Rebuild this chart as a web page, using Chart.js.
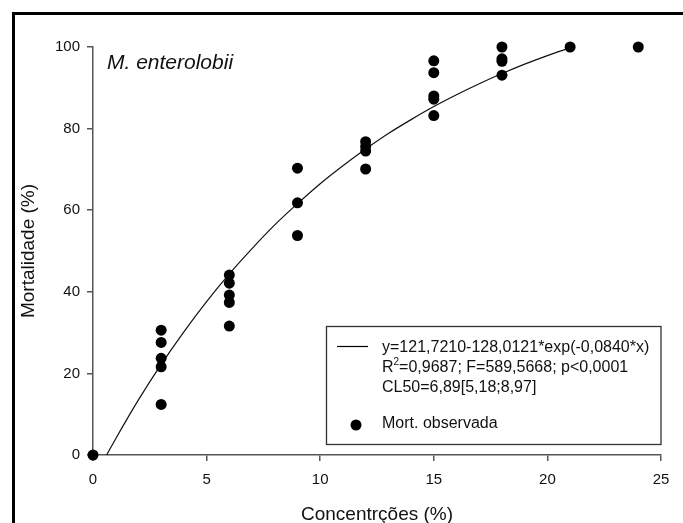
<!DOCTYPE html>
<html>
<head>
<meta charset="utf-8">
<script src="https://cdn.jsdelivr.net/npm/chart.js@4.4.1/dist/chart.umd.min.js"></script>
<style>
    html, body { margin: 0; padding: 0; background: #fff; }
    #wrap { position: relative; width: 683px; height: 523px; }
</style>
</head>
<body>
<div id="wrap"><canvas id="grafico" width="683" height="523"></canvas></div>
<script>
const concentracoes = [0, 3, 3, 3, 3, 3, 6, 6, 6, 6, 6, 9, 9, 9, 12, 12, 12, 12, 15, 15, 15, 15, 15, 18, 18, 18, 18, 21, 24];
const mortalidade = [0, 30.6, 27.6, 23.7, 21.6, 12.4, 44.1, 42.1, 39.2, 37.4, 31.6, 70.3, 61.8, 53.8, 76.8, 75.6, 74.5, 70.1, 96.6, 93.7, 88.0, 87.2, 83.2, 100, 97.1, 96.5, 93.1, 100, 100];

// curva ajustada
const curvaX = [0.6, 1, 2, 3, 4, 5, 6, 7, 8, 9, 10, 11, 12, 13, 14, 15, 16, 17, 18, 19, 20, 21];
const curvaY = [0, 4.0, 13.5, 22.2, 30.2, 37.6, 44.4, 50.6, 56.4, 61.6, 66.5, 70.9, 75.0, 78.8, 82.2, 85.4, 88.3, 91.0, 93.5, 95.8, 97.9, 99.8];

// eixos
const ticksX = [0, 5, 10, 15, 20, 25];
const ticksY = [0, 20, 40, 60, 80, 100];
const tituloX = 'Concentrções (%)';
const tituloY = 'Mortalidade (%)';
const especie = 'M. enterolobii';

// legenda
const legendaEquacao = 'y=121,7210-128,0121*exp(-0,0840*x)';
const legendaR2 = ['R', '2', '=0,9687; F=589,5668; p<0,0001'];
const legendaCL50 = 'CL50=6,89[5,18;8,97]';
const legendaPontos = 'Mort. observada';

const fonte = '"Liberation Sans", Arial, sans-serif';
Chart.defaults.font.family = fonte;

const decoracao = {
    id: 'decoracao',
    afterDraw(chart) {
        const ctx = chart.ctx;
        const a = chart.chartArea;
        ctx.save();

        // moldura (só topo e esquerda)
        ctx.strokeStyle = '#000';
        ctx.lineWidth = 3;
        ctx.beginPath();
        ctx.moveTo(13.5, chart.height);
        ctx.lineTo(13.5, 13.5);
        ctx.lineTo(chart.width, 13.5);
        ctx.stroke();

        // nome da espécie
        ctx.fillStyle = '#111';
        ctx.textBaseline = 'middle';
        ctx.textAlign = 'left';
        ctx.font = 'italic 21px ' + fonte;
        ctx.fillText(especie, a.left + 14, a.top + 16);

        // caixa da legenda
        const bx = 326.5, by = 326.5, bw = a.right - 326.5, bh = 118;
        ctx.strokeStyle = '#333';
        ctx.lineWidth = 1.3;
        ctx.strokeRect(bx, by, bw, bh);

        ctx.strokeStyle = '#000';
        ctx.lineWidth = 1.2;
        ctx.beginPath();
        ctx.moveTo(337, 346.5);
        ctx.lineTo(368, 346.5);
        ctx.stroke();

        const tx = 382;
        ctx.font = '16px ' + fonte;
        ctx.fillText(legendaEquacao, tx, 347.5);

        ctx.fillText(legendaR2[0], tx, 368);
        let w = ctx.measureText(legendaR2[0]).width;
        ctx.font = '10px ' + fonte;
        ctx.fillText(legendaR2[1], tx + w, 362.5);
        const w2 = ctx.measureText(legendaR2[1]).width;
        ctx.font = '16px ' + fonte;
        ctx.fillText(legendaR2[2], tx + w + w2, 368);

        ctx.fillText(legendaCL50, tx, 388);
        ctx.fillText(legendaPontos, tx, 424);

        ctx.fillStyle = '#000';
        ctx.beginPath();
        ctx.arc(356, 425, 5.5, 0, Math.PI * 2);
        ctx.fill();

        ctx.restore();
    }
};

const ctx = document.getElementById('grafico').getContext('2d');
new Chart(ctx, {
    type: 'scatter',
    data: {
        datasets: [
            {
                label: legendaPontos,
                data: concentracoes.map((x, i) => ({ x: x, y: mortalidade[i] })),
                backgroundColor: '#000',
                borderWidth: 0,
                pointRadius: 5.5,
                clip: false
            },
            {
                label: 'ajuste',
                data: curvaX.map((x, i) => ({ x: x, y: curvaY[i] })),
                showLine: true,
                borderColor: '#111',
                borderWidth: 1.2,
                pointRadius: 0,
                cubicInterpolationMode: 'monotone',
                clip: false
            }
        ]
    },
    options: {
        responsive: false,
        animation: false,
        devicePixelRatio: 1,
        layout: { padding: { top: 47, right: 22, left: 0, bottom: 0 } },
        plugins: {
            legend: { display: false },
            tooltip: { enabled: false },
            title: { display: false }
        },
        scales: {
            x: {
                type: 'linear',
                min: ticksX[0],
                max: ticksX[ticksX.length - 1],
                afterBuildTicks: s => { s.ticks = ticksX.map(v => ({ value: v })); },
                ticks: { color: '#111', font: { size: 15 }, padding: 10, maxRotation: 0 },
                grid: { drawOnChartArea: false, drawTicks: true, tickLength: 6, color: '#555', lineWidth: 1.5 },
                border: { color: '#555', width: 1.5 },
                title: { display: true, text: tituloX, color: '#111', font: { size: 19 }, padding: { top: 0, bottom: -2.9 } },
                afterFit: s => { s.height = 68; }
            },
            y: {
                type: 'linear',
                min: ticksY[0],
                max: ticksY[ticksY.length - 1],
                afterBuildTicks: s => { s.ticks = ticksY.map(v => ({ value: v })); },
                ticks: { color: '#111', font: { size: 15 }, padding: 7 },
                grid: { drawOnChartArea: false, drawTicks: true, tickLength: 6, color: '#555', lineWidth: 1.5 },
                border: { color: '#555', width: 1.5 },
                title: { display: true, text: tituloY, color: '#111', font: { size: 19 }, padding: { top: 17.6, bottom: 0 } },
                afterFit: s => { s.width = 93; }
            }
        }
    },
    plugins: [decoracao]
});
</script>
</body>
</html>
